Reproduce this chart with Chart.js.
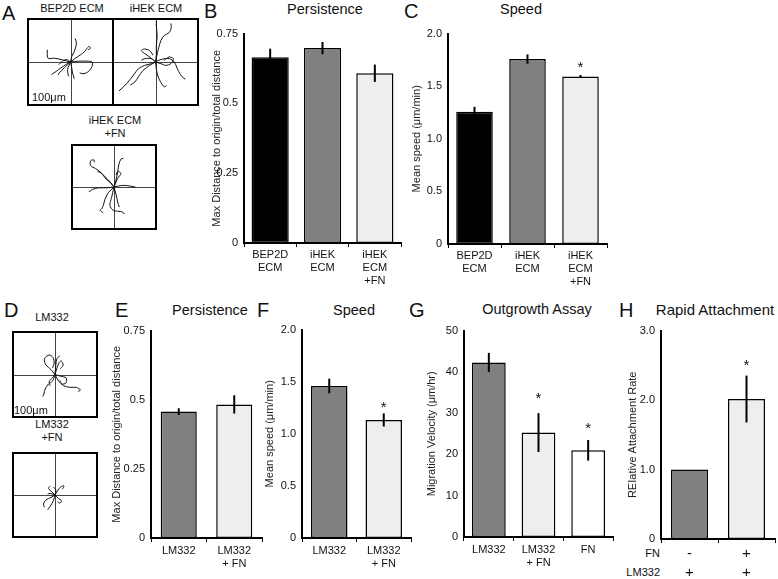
<!DOCTYPE html>
<html>
<head>
<meta charset="utf-8">
<script src="https://cdn.jsdelivr.net/npm/chart.js@4.4.1/dist/chart.umd.min.js"></script>
<style>
  body { margin: 0; background: #fff; width: 778px; height: 579px; position: relative; overflow: hidden;
         font-family: "Liberation Sans", Arial, sans-serif; color: #111; }
  .abs { position: absolute; white-space: nowrap; }
  .letter { font-size: 20px; line-height: 1; }
  .ttl { font-size: 14.5px; line-height: 1; transform: translateX(-50%); }
  .lbl { font-size: 11px; line-height: 13px; text-align: center; transform: translateX(-50%); }
  .row { font-size: 11px; line-height: 13px; text-align: right; transform: translate(-100%, -50%); }
  .box { position: absolute; border: 2px solid #000; box-sizing: border-box; }
  .box canvas, .wrap canvas { position: absolute; left: 0; top: 0; }
  .wrap { position: absolute; }
</style>
</head>
<body>

<!-- panel letters -->
<div class="abs letter" style="left:2px;top:3px">A</div>
<div class="abs letter" style="left:204px;top:1px">B</div>
<div class="abs letter" style="left:404px;top:1px">C</div>
<div class="abs letter" style="left:4px;top:300px">D</div>
<div class="abs letter" style="left:115px;top:300px">E</div>
<div class="abs letter" style="left:257px;top:300px">F</div>
<div class="abs letter" style="left:409px;top:300px">G</div>
<div class="abs letter" style="left:619px;top:300px">H</div>

<!-- panel titles -->
<div class="abs ttl" style="left:325px;top:2px">Persistence</div>
<div class="abs ttl" style="left:521px;top:2px">Speed</div>
<div class="abs ttl" style="left:210px;top:303px">Persistence</div>
<div class="abs ttl" style="left:354px;top:303px">Speed</div>
<div class="abs ttl" style="left:537px;top:302px">Outgrowth Assay</div>
<div class="abs ttl" style="left:715px;top:302px;font-size:15px">Rapid Attachment</div>

<!-- track panel labels -->
<div class="abs lbl" style="left:72px;top:2px">BEP2D ECM</div>
<div class="abs lbl" style="left:156px;top:2px">iHEK ECM</div>
<div class="abs lbl" style="left:115px;top:114px;line-height:12.5px">iHEK ECM<br>+FN</div>
<div class="abs lbl" style="left:52px;top:311px">LM332</div>
<div class="abs lbl" style="left:52px;top:418px">LM332<br>+FN</div>

<div class="box" style="left:27px;top:18px;width:87px;height:88px"><canvas id="trA1" width="83" height="84"></canvas></div>
<div class="box" style="left:112px;top:18px;width:87px;height:88px"><canvas id="trA2" width="83" height="84"></canvas></div>
<div class="box" style="left:71px;top:144px;width:86px;height:86px"><canvas id="trA3" width="82" height="82"></canvas></div>
<div class="box" style="left:12px;top:331px;width:86px;height:87px"><canvas id="trD1" width="82" height="83"></canvas></div>
<div class="box" style="left:12px;top:452px;width:86px;height:86px"><canvas id="trD2" width="82" height="82"></canvas></div>

<div class="abs" style="left:32px;top:91px;font-size:11px;line-height:13px">100μm</div>
<div class="abs" style="left:14px;top:404px;font-size:11px;line-height:13px">100μm</div>

<!-- row labels for H -->
<div class="abs row" style="left:660px;top:553px">FN</div>
<div class="abs row" style="left:660px;top:572px">LM332</div>

<div class="wrap" id="wB"><canvas id="cB"></canvas></div>
<div class="wrap" id="wC"><canvas id="cC"></canvas></div>
<div class="wrap" id="wE"><canvas id="cE"></canvas></div>
<div class="wrap" id="wF"><canvas id="cF"></canvas></div>
<div class="wrap" id="wG"><canvas id="cG"></canvas></div>
<div class="wrap" id="wH"><canvas id="cH"></canvas></div>

<script>
// ---- bar data ----
const topCategories = [['BEP2D', 'ECM'], ['iHEK', 'ECM'], ['iHEK', 'ECM', '+FN']]
const persistenceTop = [0.665, 0.698, 0.608]
const persistenceTopErr = [0.031, 0.022, 0.031]
const speedTop = [1.257, 1.758, 1.593]
const speedTopErr = [0.047, 0.044, 0.014]
const speedTopStars = [null, null, 1.709]

const lmCategories = ['LM332', ['LM332', '+ FN']]
const persistenceLm = [0.457, 0.483]
const persistenceLmErr = [0.012, 0.033]
const speedLm = [1.459, 1.133]
const speedLmErr = [0.07, 0.063]
const speedLmStars = [null, 1.288]

const outgrowthCategories = ['LM332', ['LM332', '+ FN'], 'FN']
const outgrowthVelocity = [42.3, 25.3, 21.0]
const outgrowthErr = [2.3, 4.7, 2.5]
const outgrowthStars = [null, 34.4, 27.2]

const attachCategories = [['-', '+'], ['+', '+']]
const attachRate = [1.0, 2.015]
const attachErr = [0, 0.337]
const attachStars = [null, 2.545]

// ---- cell tracks (um from origin, each starts at the origin) ----
const tracksBep2d = [
  [[-19, 5], [-38, 9], [-54, 9], [-56, 21], [-56, 29]],
  [[3, 13], [9, 25], [13, 37], [14, 48], [11, 56]],
  [[12, 9], [24, 17], [34, 25], [40, 33], [45, 37], [48, 33], [42, 29]],
  [[20, 2], [40, 2], [52, 0], [52, -10], [44, -22], [32, -28], [22, -26]],
  [[3, -14], [5, -26], [9, -40]],
  [[-11, -6], [-23, -14], [-34, -22], [-46, -30]],
  [[-15, -14], [-27, -26], [-30, -31]],
  [[-7, -18], [-5, -34]],
  [[-10, 6], [-22, 0], [-28, -6]]
]
const tracksIhek = [
  [[-10, -4], [-26, -8], [-41, -16], [-53, -31], [-69, -51], [-88, -69]],
  [[-14, -8], [-30, -20], [-41, -35], [-49, -47], [-61, -55]],
  [[2, 16], [2, 39], [4, 63], [2, 86], [2, 98]],
  [[5, 23], [13, 51], [21, 63], [33, 70], [38, 82], [37, 92]],
  [[-14, 12], [-26, 20], [-34, 27], [-27, 31], [-14, 27], [-6, 16]],
  [[13, 6], [33, 8], [45, 0], [51, -12], [56, -23], [64, -35], [72, -41]],
  [[13, -4], [25, -8], [37, -4], [43, 8], [33, 12], [21, 4]],
  [[2, -16], [5, -31], [12, -47], [21, -59], [27, -56]],
  [[-10, 8], [-26, 8], [-34, 4]]
]
const tracksIhekFn = [
  [[-10, 13], [-22, 25], [-34, 37], [-45, 45], [-57, 52], [-57, 64], [-49, 66], [-48, 60]],
  [[-8, 10], [-20, 20], [-30, 33], [-40, 38]],
  [[5, 17], [9, 37], [12, 56], [17, 68], [23, 70]],
  [[9, 21], [17, 33], [9, 38], [5, 29]],
  [[-18, -2], [-38, -2], [-53, -6], [-61, -12]],
  [[21, 4], [41, 2], [52, 0]],
  [[-14, -14], [-22, -30], [-26, -45], [-30, -53], [-34, -57], [-26, -63]],
  [[-6, -26], [-10, -45], [-2, -57], [9, -59], [21, -61], [25, -66]],
  [[5, -18], [9, -37], [13, -49]]
]
const tracksLm332 = [
  [[-10, 12], [-22, 23], [-26, 35], [-22, 43], [-12, 47], [-4, 39], [-2, 27], [-6, 16]],
  [[5, 16], [9, 27], [15, 33], [20, 23], [13, 14]],
  [[-6, -16], [-16, -23], [-24, -35], [-27, -47], [-30, -53]],
  [[9, -16], [21, -27], [37, -31], [52, -31], [62, -37], [56, -41]],
  [[13, -4], [27, -8], [27, -20], [17, -23], [12, -14]],
  [[2, 23], [5, 39], [12, 45]],
  [[-6, -8], [-14, -16], [-12, -27]]
]
const tracksLm332Fn = [
  [[-8, 8], [-16, 16], [-12, 22]],
  [[6, 10], [14, 20], [22, 22], [18, 14]],
  [[-10, -6], [-22, -12], [-28, -22], [-26, -30]],
  [[-4, -14], [-12, -28], [-18, -36]],
  [[8, -8], [16, -14], [12, -20], [6, -16]],
  [[2, 12], [-4, 20]],
  [[-12, 4], [-18, 2]]
]

const FONT = '"Liberation Sans", Arial, sans-serif'
Chart.defaults.font.family = FONT
Chart.defaults.color = '#111'
Chart.defaults.animation = false

// crosshair through the origin of a track panel
const crosshair = {
  id: 'crosshair',
  beforeDatasetsDraw(chart) {
    const { ctx, chartArea: a, scales: { x, y } } = chart
    ctx.save()
    ctx.strokeStyle = '#444'
    ctx.lineWidth = 1
    ctx.beginPath()
    const cx = Math.round(x.getPixelForValue(0)) + 0.5
    const cy = Math.round(y.getPixelForValue(0)) + 0.5
    ctx.moveTo(cx, a.top); ctx.lineTo(cx, a.bottom)
    ctx.moveTo(a.left, cy); ctx.lineTo(a.right, cy)
    ctx.stroke()
    ctx.restore()
  }
}

function makeTracks(id, tracks) {
  new Chart(document.getElementById(id), {
    type: 'scatter',
    data: {
      datasets: tracks.map((t) => ({
        data: [[0, 0], ...t].map(([x, y]) => ({ x, y })),
        showLine: true,
        borderColor: '#111',
        borderWidth: 1,
        pointRadius: 0,
        tension: 0.3
      }))
    },
    options: {
      responsive: false,
      layout: { padding: 0 },
      plugins: { legend: { display: false }, tooltip: { enabled: false } },
      scales: {
        x: { display: false, min: -100, max: 100 },
        y: { display: false, min: -100, max: 100 }
      }
    },
    plugins: [crosshair]
  })
}

// error bars and significance stars
const errorBars = {
  id: 'errorBars',
  afterDatasetsDraw(chart, args, opts) {
    const { ctx, scales: { y } } = chart
    const meta = chart.getDatasetMeta(0)
    const values = chart.data.datasets[0].data
    ctx.save()
    ctx.strokeStyle = '#000'
    ctx.lineWidth = 2
    meta.data.forEach((bar, i) => {
      const e = opts.errors[i]
      if (e) {
        ctx.beginPath()
        ctx.moveTo(bar.x, y.getPixelForValue(values[i] - e))
        ctx.lineTo(bar.x, y.getPixelForValue(values[i] + e))
        ctx.stroke()
      }
      const s = opts.stars && opts.stars[i]
      if (s != null) {
        ctx.fillStyle = '#111'
        ctx.font = '15px ' + FONT
        ctx.textAlign = 'center'
        ctx.textBaseline = 'alphabetic'
        ctx.fillText('*', bar.x, y.getPixelForValue(s) + 8)
      }
    })
    ctx.restore()
  }
}

function makeBars(id, cfg) {
  const yW = cfg.axisLeft - cfg.left
  const xH = cfg.xHeight || 50
  const padTop = 10
  const padRight = 6
  const width = cfg.axisRight - cfg.left + padRight
  const height = padTop + (cfg.plotBottom - cfg.plotTop) + xH
  const wrap = document.getElementById('w' + id)
  wrap.style.left = cfg.left + 'px'
  wrap.style.top = (cfg.plotTop - padTop) + 'px'
  const canvas = document.getElementById('c' + id)
  canvas.width = width
  canvas.height = height

  new Chart(canvas, {
    type: 'bar',
    data: {
      labels: cfg.labels,
      datasets: [{
        data: cfg.values,
        backgroundColor: cfg.colors,
        borderColor: '#000',
        borderWidth: 1.5,
        borderSkipped: false,
        barPercentage: cfg.barPct,
        categoryPercentage: 1
      }]
    },
    options: {
      responsive: false,
      layout: { padding: { top: padTop, right: padRight, left: 0, bottom: 0 } },
      plugins: {
        legend: { display: false },
        tooltip: { enabled: false },
        errorBars: { errors: cfg.errors, stars: cfg.stars }
      },
      scales: {
        x: {
          afterFit: (s) => { s.height = xH },
          grid: { display: true, drawOnChartArea: false, drawTicks: true, tickLength: 4, offset: true, color: '#000' },
          border: { display: true, color: '#000', width: 2 },
          ticks: {
            color: '#111', padding: cfg.xPad || 1, maxRotation: 0, autoSkip: false,
            font: { size: cfg.xFont || 11, lineHeight: cfg.xLine || 1.2 }
          }
        },
        y: {
          min: 0, max: cfg.max,
          afterFit: (s) => { s.width = yW },
          grid: { display: false, drawTicks: false },
          border: { display: true, color: '#000', width: 2 },
          ticks: { stepSize: cfg.step, padding: 6, color: '#111', font: { size: 11 }, callback: cfg.fmt },
          title: { display: true, text: cfg.title, color: '#222', padding: 0, font: { size: 11 } }
        }
      }
    },
    plugins: [errorBars]
  })
}

const fmtPlain = (v) => (v === 0 ? '0' : String(v))
const fmtOne = (v) => (v === 0 ? '0' : v.toFixed(1))
const speedTitle = 'Mean speed (\u03bcm/min)'
const persTitle = 'Max Distance to origin/total distance'

makeTracks('trA1', tracksBep2d)
makeTracks('trA2', tracksIhek)
makeTracks('trA3', tracksIhekFn)
makeTracks('trD1', tracksLm332)
makeTracks('trD2', tracksLm332Fn)

makeBars('B', {
  labels: topCategories, values: persistenceTop, errors: persistenceTopErr,
  colors: ['#000000', '#808080', '#eeeeee'], max: 0.75, step: 0.25, fmt: fmtPlain, title: persTitle,
  left: 210, axisLeft: 244, axisRight: 401, plotTop: 31, plotBottom: 243, barPct: 0.71
})
makeBars('C', {
  labels: topCategories, values: speedTop, errors: speedTopErr, stars: speedTopStars,
  colors: ['#000000', '#808080', '#eeeeee'], max: 2, step: 0.5, fmt: fmtOne, title: speedTitle,
  left: 410, axisLeft: 448, axisRight: 607, plotTop: 31, plotBottom: 244, barPct: 0.69
})
makeBars('E', {
  labels: lmCategories, values: persistenceLm, errors: persistenceLmErr,
  colors: ['#808080', '#eeeeee'], max: 0.75, step: 0.25, fmt: fmtPlain, title: persTitle,
  left: 110, axisLeft: 151, axisRight: 262, plotTop: 328, plotBottom: 538, barPct: 0.65, xPad: 2
})
makeBars('F', {
  labels: lmCategories, values: speedLm, errors: speedLmErr, stars: speedLmStars,
  colors: ['#808080', '#eeeeee'], max: 2, step: 0.5, fmt: fmtOne, title: speedTitle,
  left: 263, axisLeft: 302, axisRight: 411, plotTop: 327, plotBottom: 538, barPct: 0.67, xPad: 2
})
makeBars('G', {
  labels: outgrowthCategories, values: outgrowthVelocity, errors: outgrowthErr, stars: outgrowthStars,
  colors: ['#808080', '#eeeeee', '#ffffff'], max: 50, step: 10, fmt: fmtPlain, title: 'Migration Velocity (\u03bcm/hr)',
  left: 425, axisLeft: 464, axisRight: 613, plotTop: 328, plotBottom: 537, barPct: 0.68, xPad: 2
})
makeBars('H', {
  labels: attachCategories, values: attachRate, errors: attachErr, stars: attachStars,
  colors: ['#808080', '#eeeeee'], max: 3, step: 1, fmt: fmtOne, title: 'REIative Attachment Rate',
  left: 626, axisLeft: 661, axisRight: 775, plotTop: 328, plotBottom: 539, barPct: 0.65,
  xFont: 15, xLine: 1.27, xPad: 0
})
</script>
</body>
</html>
